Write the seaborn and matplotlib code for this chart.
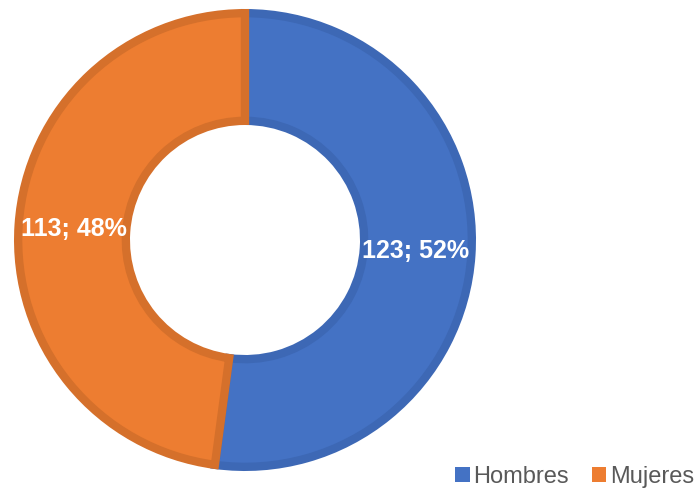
import matplotlib
matplotlib.use("Agg")
import matplotlib.pyplot as plt
import seaborn as sns

categories = ["Hombres", "Mujeres"]
values = [123, 113]
colors = ["#4472C4", "#ED7D31"]
edge_colors = ["#3D68B5", "#D5702B"]

sns.set_theme(style="white")
plt.rcParams['font.family'] = ['Liberation Sans', 'DejaVu Sans']

fig = plt.figure(figsize=(6.96, 4.9), dpi=100)
W, H = 696, 490
cx, cy, half = 245, 240, 240
ax = fig.add_axes([(cx - half) / W, (H - cy - half) / H, 2 * half / W, 2 * half / H])

total = sum(values)
lw_pt = 6
lw_px = lw_pt * 100 / 72
outer_px = 231 - lw_px / 2
inner_px = 115 + lw_px / 2
radius = outer_px / half
width = (outer_px - inner_px) / half

wedges, texts, autotexts = ax.pie(
    values, colors=sns.color_palette(colors), startangle=90, counterclock=False,
    radius=radius, wedgeprops=dict(width=width, linewidth=lw_pt),
    autopct=lambda p: f"{round(p * total / 100)}; {p:.0f}%",
    pctdistance=(171 / half) / radius,
    textprops=dict(color="white", fontsize=18, fontweight="bold"))
for w, ec in zip(wedges, edge_colors):
    w.set_edgecolor(ec)
    w.set_joinstyle("miter")

ax.set_xlim(-1, 1)
ax.set_ylim(-1, 1)
ax.axis("off")

leg = fig.legend(wedges, categories, loc="lower right", bbox_to_anchor=(1.0, 0.0),
                 ncol=2, frameon=False, fontsize=17, handlelength=0.6, handleheight=0.6,
                 handletextpad=0.15, columnspacing=1.0, borderaxespad=0.08, borderpad=0)
for t in leg.get_texts():
    t.set_color("#595959")
for h in leg.legend_handles:
    h.set_linewidth(0)

fig.savefig("out.png", dpi=100)
